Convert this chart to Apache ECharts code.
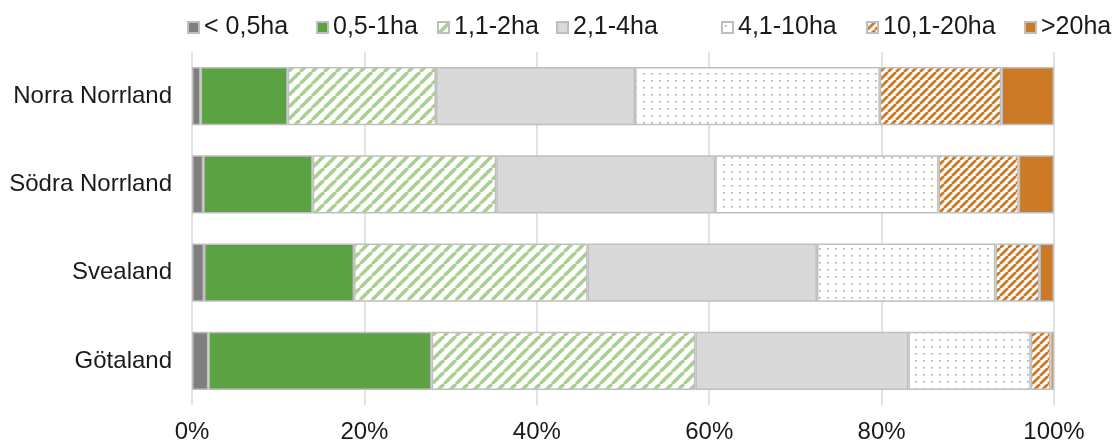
<!DOCTYPE html>
<html>
<head>
<meta charset="utf-8">
<script src="https://cdn.jsdelivr.net/npm/echarts@6/dist/echarts.min.js"></script>
<style>
  html, body { margin: 0; padding: 0; background: #fff; }
  #chart { width: 1113px; height: 443px; }
</style>
</head>
<body>
<div id="chart"></div>
<script>
// kategorier uppifrån och ned
const regions = ['Norra Norrland', 'Södra Norrland', 'Svealand', 'Götaland']
const classes = ['< 0,5ha', '0,5-1ha', '1,1-2ha', '2,1-4ha', '4,1-10ha', '10,1-20ha', '>20ha']

// andel (%) per storleksklass, i samma ordning som regions
const lt05 = [1.0, 1.3, 1.4, 1.9]
const s05to1 = [10.1, 12.7, 17.4, 25.9]
const s1to2 = [17.2, 21.3, 27.1, 30.6]
const s2to4 = [23.1, 25.4, 26.6, 24.7]
const s4to10 = [28.4, 25.9, 20.7, 14.2]
const s10to20 = [14.1, 9.3, 5.1, 2.3]
const gt20 = [6.1, 4.1, 1.7, 0.4]

// legendens textstart (px) per post, som i Excel-bilden
const legendTextX = [198, 327, 448, 567, 732, 877, 1035]

function stripes (color, p, w) {
  const c = document.createElement('canvas')
  c.width = p
  c.height = p
  const ctx = c.getContext('2d')
  ctx.fillStyle = '#fff'
  ctx.fillRect(0, 0, p, p)
  ctx.strokeStyle = color
  ctx.lineWidth = w
  for (const k of [-p, 0, p]) {
    ctx.beginPath()
    ctx.moveTo(k, p)
    ctx.lineTo(k + p, 0)
    ctx.stroke()
  }
  return { image: c, repeat: 'repeat' }
}

function dots (color, w, h) {
  const c = document.createElement('canvas')
  c.width = w
  c.height = h
  const ctx = c.getContext('2d')
  ctx.fillStyle = '#fff'
  ctx.fillRect(0, 0, w, h)
  ctx.fillStyle = color
  ctx.fillRect(3, 3, 1.6, 1.6)
  return { image: c, repeat: 'repeat' }
}

const fills = [
  '#7f7f7f',
  '#5ba342',
  stripes('#a9d18e', 12, 3.6),
  '#d9d9d9',
  dots('#a6a6a6', 8, 7),
  stripes('#cc7a26', 8, 2.8),
  '#cc7a26'
]

const values = [lt05, s05to1, s1to2, s2to4, s4to10, s10to20, gt20]

const chart = echarts.init(document.getElementById('chart'))
chart.setOption({
  animation: false,
  textStyle: { fontFamily: 'Liberation Sans, Arial, sans-serif' },
  // en legend per post så att avstånden blir som i originalet
  legend: classes.map((name, i) => {
    return {
      top: 10,
      left: legendTextX[i] - 16,
      icon: 'rect',
      itemWidth: 11,
      itemHeight: 11,
      textStyle: { fontSize: 25, color: '#1a1a1a' },
      data: [name]
    }
  }),
  grid: {
    left: 192,
    right: 59,
    top: 52,
    bottom: 38,
    outerBoundsMode: 'none'
  },
  xAxis: {
    type: 'value',
    min: 0,
    max: 100,
    interval: 20,
    axisLine: { show: false },
    axisTick: { show: false },
    axisLabel: {
      fontSize: 24,
      color: '#1a1a1a',
      margin: 15,
      formatter: '{value}%'
    },
    splitLine: { lineStyle: { color: '#d9d9d9', width: 1.5 } }
  },
  yAxis: {
    type: 'category',
    inverse: true,
    data: regions,
    axisLine: { show: false },
    axisTick: { show: false },
    axisLabel: { fontSize: 24, color: '#1a1a1a', margin: 20 }
  },
  series: classes.map((name, i) => {
    return {
      name: name,
      type: 'bar',
      stack: 'total',
      barCategoryGap: '34%',
      itemStyle: {
        color: fills[i],
        borderColor: '#bfbfbf',
        borderWidth: 1.5
      },
      data: values[i]
    }
  })
})
</script>
</body>
</html>
